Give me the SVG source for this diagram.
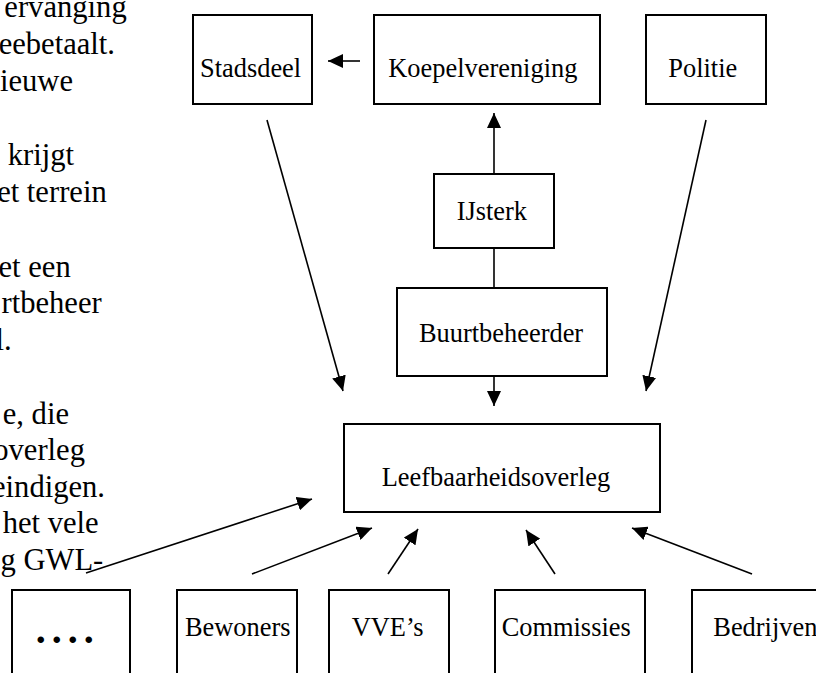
<svg xmlns="http://www.w3.org/2000/svg" width="816" height="673" viewBox="0 0 816 673">
<defs>
<style>
.box{fill:#fff;stroke:#000;stroke-width:2}
.lbl{font-family:"Liberation Serif","Times New Roman",serif;font-size:26.4px;fill:#000}
.body{font-family:"Liberation Serif","Times New Roman",serif;font-size:30.6px;fill:#000;text-anchor:end}
.con line{stroke:#000;stroke-width:1.6;fill:none}
.arr{marker-end:url(#ah)}
</style>
<marker id="ah" viewBox="0 0 15 14" refX="15" refY="7" markerWidth="15" markerHeight="14" markerUnits="userSpaceOnUse" orient="auto">
<path d="M0,0 L15,7 L0,14 z" fill="#000"/>
</marker>
</defs>
<rect width="816" height="673" fill="#fff"/>
<g id="bodytext">
<text class="body" x="126.7" y="17">ervanging</text>
<text class="body" x="115" y="54">eebetaalt.</text>
<text class="body" x="73" y="91">ieuwe</text>
<text class="body" x="74" y="165">krijgt</text>
<text class="body" x="106.7" y="202">et terrein</text>
<text class="body" x="70.7" y="276.5">et een</text>
<text class="body" x="101.7" y="313">rtbeheer</text>
<text class="body" x="11.7" y="349.5">l.</text>
<text class="body" x="69" y="423.5">e, die</text>
<text class="body" x="85" y="460">overleg</text>
<text class="body" x="105" y="496.5">eindigen.</text>
<text class="body" x="98.7" y="533">het vele</text>
<text class="body" x="103.3" y="570">g GWL-</text>
</g>
<g id="stadsdeel"><rect class="box" x="193" y="15" width="119" height="89"/><text class="lbl" x="200" y="77">Stadsdeel</text></g>
<g id="koepelvereniging"><rect class="box" x="374" y="15" width="226" height="89"/><text class="lbl" x="388.3" y="77">Koepelvereniging</text></g>
<g id="politie"><rect class="box" x="646" y="15" width="120" height="89"/><text class="lbl" x="668.3" y="77">Politie</text></g>
<g id="ijsterk"><rect class="box" x="434" y="174" width="120" height="74"/><text class="lbl" x="456.7" y="220">IJsterk</text></g>
<g id="buurtbeheerder"><rect class="box" x="397" y="288" width="210" height="88"/><text class="lbl" x="419" y="342">Buurtbeheerder</text></g>
<g id="leefbaarheidsoverleg"><rect class="box" x="344" y="424" width="316" height="88"/><text class="lbl" x="381.7" y="486">Leefbaarheidsoverleg</text></g>
<g id="dots"><rect class="box" x="12" y="590" width="118" height="110"/><text x="35.7" y="642.5" style="font-family:'Liberation Serif','Times New Roman',serif;font-size:40px;font-weight:bold;letter-spacing:6px">....</text></g>
<g id="bewoners"><rect class="box" x="177" y="590" width="120" height="110"/><text class="lbl" x="185" y="636">Bewoners</text></g>
<g id="vves"><rect class="box" x="329" y="590" width="120" height="110"/><text class="lbl" x="351.7" y="636">VVE’s</text></g>
<g id="commissies"><rect class="box" x="495" y="590" width="150" height="110"/><text class="lbl" x="501.7" y="636">Commissies</text></g>
<g id="bedrijven"><rect class="box" x="692" y="590" width="150" height="110"/><text class="lbl" x="713.3" y="636">Bedrijven</text></g>
<g id="connectors" class="con">
<line class="arr" x1="360" y1="61" x2="328" y2="61"/>
<line class="arr" x1="494" y1="174" x2="494" y2="113"/>
<line x1="494" y1="248" x2="494" y2="288"/>
<line class="arr" x1="494" y1="376" x2="494" y2="406"/>
<line class="arr" x1="267" y1="120" x2="343" y2="391"/>
<line class="arr" x1="706" y1="120" x2="646" y2="391"/>
<line class="arr" x1="86" y1="573" x2="312" y2="499"/>
<line class="arr" x1="252" y1="574" x2="372" y2="528"/>
<line class="arr" x1="388" y1="574" x2="418" y2="529"/>
<line class="arr" x1="555" y1="574" x2="526" y2="530"/>
<line class="arr" x1="752" y1="574" x2="632" y2="528"/>
</g>
</svg>
